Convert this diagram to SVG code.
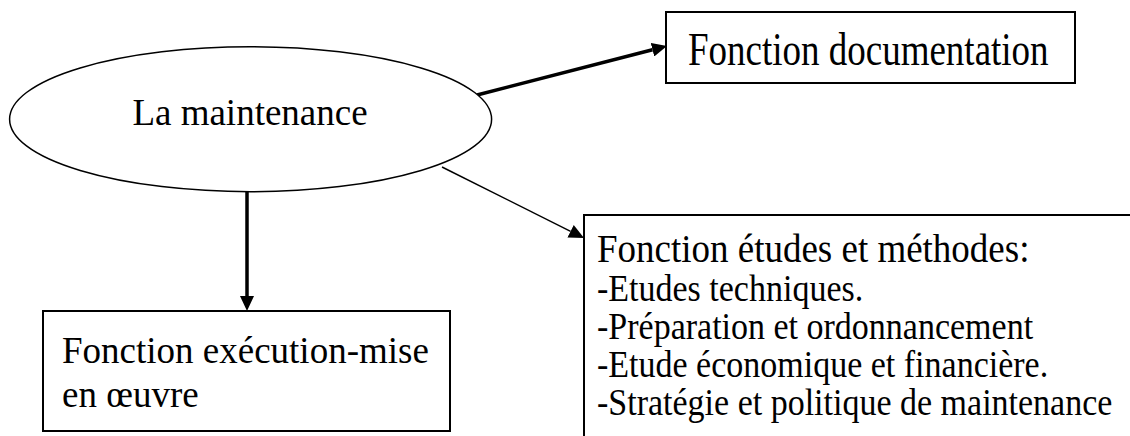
<svg xmlns="http://www.w3.org/2000/svg" width="1130" height="436" viewBox="0 0 1130 436">
  <style>
    .shape { fill: #ffffff; stroke: #000000; stroke-width: 1.5; }
    .box { fill: #ffffff; stroke: #000000; stroke-width: 2; }
    .label { font-family: "Liberation Serif", "Times New Roman", serif; fill: #000000; }
    .big { font-size: 37px; }
    .item { font-size: 34px; }
    .thick { stroke: #000000; stroke-width: 3.5; fill: none; }
    .thin { stroke: #000000; stroke-width: 1.5; fill: none; }
  </style>
  <defs>
    <!-- arrowhead: line ends at the base, head extends 15px beyond -->
    <marker id="head" markerUnits="userSpaceOnUse" markerWidth="15" markerHeight="14" viewBox="0 0 15 14" refX="0" refY="7" orient="auto">
      <path d="M0,0 L15,7 L0,14 Z" fill="#000000"/>
    </marker>
  </defs>

  <rect width="1130" height="436" fill="#ffffff"/>

  <!-- connectors -->
  <g id="connectors">
    <line class="thick" x1="477" y1="95" x2="652.5" y2="49.7" marker-end="url(#head)"/>
    <line class="thin" x1="442" y1="167" x2="570.6" y2="231.3" marker-end="url(#head)"/>
    <line class="thick" x1="247" y1="191" x2="247" y2="296" marker-end="url(#head)"/>
  </g>

  <!-- central ellipse -->
  <g id="maintenance">
    <ellipse class="shape" cx="250.6" cy="119.2" rx="241" ry="72.5"/>
    <text class="label big" x="250" y="125" text-anchor="middle">La maintenance</text>
  </g>

  <!-- documentation -->
  <g id="documentation">
    <rect class="box" x="666" y="12" width="409" height="71"/>
    <text class="label big" transform="translate(688,65) scale(1,1.28)">Fonction documentation</text>
  </g>

  <!-- études et méthodes (runs off the right and bottom edges) -->
  <g id="etudes">
    <rect class="box" x="584" y="215" width="700" height="300"/>
    <text class="label big" transform="translate(597,262) scale(1,1.1)">Fonction études et méthodes:</text>
    <text class="label item" transform="translate(597,301) scale(1,1.1)">-Etudes techniques.</text>
    <text class="label item" transform="translate(597,339) scale(1,1.1)">-Préparation et ordonnancement</text>
    <text class="label item" transform="translate(597,377) scale(1,1.1)">-Etude économique et financière.</text>
    <text class="label item" transform="translate(597,415) scale(1,1.1)">-Stratégie et politique de maintenance</text>
  </g>

  <!-- exécution -->
  <g id="execution">
    <rect class="box" x="43" y="311" width="407" height="120"/>
    <text class="label big" x="62" y="363">Fonction exécution-mise</text>
    <text class="label big" x="62" y="407">en œuvre</text>
  </g>
</svg>
